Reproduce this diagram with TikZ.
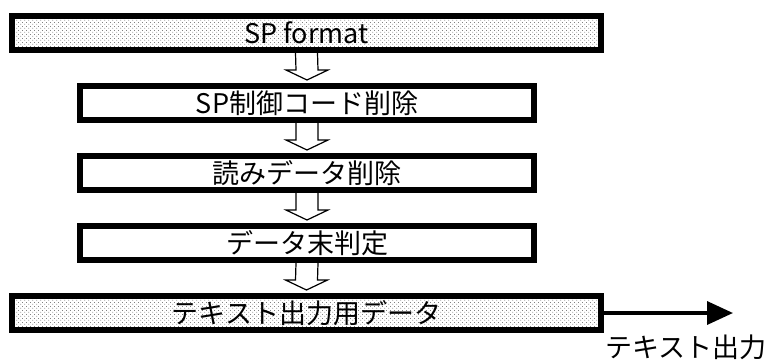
\documentclass[tikz,border=0pt]{standalone}
\usepackage{fontspec}
\setmainfont{Noto Sans CJK JP}
\usetikzlibrary{calc,patterns.meta,arrows.meta}
% staggered fine dots for the shaded boxes
\pgfdeclarepattern{name=fine dots, type=uncolored,
  bottom left={\pgfpoint{0pt}{0pt}}, top right={\pgfpoint{4pt}{4pt}},
  tile size={\pgfpoint{4pt}{4pt}},
  code={%
    \pgfpathcircle{\pgfpoint{1pt}{1pt}}{0.45pt}%
    \pgfpathcircle{\pgfpoint{3pt}{3pt}}{0.45pt}%
    \pgfusepath{fill}}}
\tikzset{%
  flow box/.style={draw, line width=6pt, minimum height=34pt, inner sep=0pt,
    font=\fontsize{27}{27}\selectfont},
  wide box/.style={flow box, minimum width=589pt, pattern=fine dots},
  narrow box/.style={flow box, minimum width=454pt, fill=white},
  hollow arrow/.style={draw, line width=1.2pt, line join=miter},
  out arrow/.style={line width=3.5pt, -{Triangle[length=26pt,width=23pt]}},
}
% hollow block arrow from box #1 down to box #2
\newcommand{\HollowArrow}[2]{%
  \draw[hollow arrow] ($(#1.south)+(-11,0)$) -- ($(#2.north)+(-11,-13)$)
    -- ++(-10,0) -- ($(#2.north)+(0,-3)$) -- ($(#2.north)+(21,-13)$)
    -- ++(-10,0) -- ($(#1.south)+(11,0)$);
}

\begin{document}
\begin{tikzpicture}[x=1pt,y=-1pt]
  \useasboundingbox (0,0) rectangle (766,360);
  \node[wide box]   (spfmt)  at (306.5,33) {SP format};
  \node[narrow box] (ctrl)   at (307,103)  {SP制御コード削除};
  \node[narrow box] (yomi)   at (307,173)  {読みデータ削除};
  \node[narrow box] (dend)   at (307,243)  {データ末判定};
  \node[wide box]   (txtdat) at (306.5,313) {テキスト出力用データ};
  \HollowArrow{spfmt}{ctrl}
  \HollowArrow{ctrl}{yomi}
  \HollowArrow{yomi}{dend}
  \HollowArrow{dend}{txtdat}
  \coordinate (out) at (733,313);
  \draw[out arrow] (txtdat.east) -- (out);
  \node[anchor=west, inner sep=0pt, font=\fontsize{27}{27}\selectfont]
    (outlabel) at (605,347) {テキスト出力};
\end{tikzpicture}
\end{document}
